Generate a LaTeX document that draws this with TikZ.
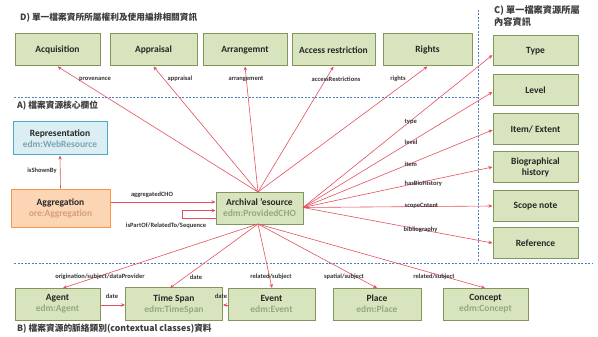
\documentclass[tikz,border=0pt]{standalone}
\usepackage{fontspec}
\setmainfont{Carlito}
\newfontfamily\cjk{Noto Sans CJK TC}
\usetikzlibrary{arrows.meta}
\definecolor{gfill}{RGB}{215,228,189}
\definecolor{gdraw}{RGB}{128,150,90}
\definecolor{gsub}{RGB}{150,168,125}
\definecolor{bfill}{RGB}{218,238,243}
\definecolor{bdraw}{RGB}{75,172,198}
\definecolor{bsub}{RGB}{125,165,178}
\definecolor{ofill}{RGB}{252,213,181}
\definecolor{odraw}{RGB}{247,150,70}
\definecolor{osub}{RGB}{215,160,120}
\definecolor{arr}{RGB}{228,80,95}
\definecolor{dash}{RGB}{79,129,189}
\definecolor{ttl}{RGB}{60,60,60}
\tikzset{
  gbox/.style={draw=gdraw, fill=gfill, line width=1pt, inner sep=1pt, align=center,
    font=\fontsize{9.5}{11}\selectfont\bfseries, text=black!85},
  bbox/.style={gbox, draw=bdraw, fill=bfill},
  obox/.style={gbox, draw=odraw, fill=ofill},
  rel/.style={draw=arr, line width=0.6pt, -{Stealth[length=4pt,width=3.5pt]}},
  lbl/.style={font=\fontsize{6.5}{7}\selectfont\bfseries, text=black!80, inner sep=0.5pt},
  sep/.style={draw=dash, dashed, line width=0.8pt, dash pattern=on 2pt off 1.5pt},
  ttlstyle/.style={font=\cjk\fontsize{8.7}{12}\selectfont\bfseries, text=ttl, anchor=west, inner sep=0pt, align=left}
}
\begin{document}
\begin{tikzpicture}[x=1pt,y=-1pt]
\useasboundingbox[fill=white] (0,0) rectangle (598,337);

% separators
\draw[sep] (478,10) -- (478,262);
\draw[sep] (14,97) -- (478,97);
\draw[sep] (14,263) -- (592,263);

% titles
\node[ttlstyle] (tD) at (20,18) {D) 單一檔案資所所屬權利及使用編排相關資訊};
\node[ttlstyle, anchor=north west, font=\cjk\fontsize{9.2}{12.5}\selectfont\bfseries] (tC) at (494,5) {C) 單一檔案資源所屬\\內容資訊};
\node[ttlstyle] (tA) at (17,106) {A) 檔案資源核心欄位};
\node[ttlstyle] (tB) at (17,329) {B) 檔案資源的脈絡類別(contextual classes)資料};

% top boxes
\node[gbox, minimum width=85pt, minimum height=32pt] (acq) at (57.5,50) {Acquisition};
\node[gbox, minimum width=87pt, minimum height=32pt] (app) at (153.5,50) {Appraisal};
\node[gbox, minimum width=84pt, minimum height=32pt] (arrg) at (245,50) {Arrangemnt};
\node[gbox, minimum width=83pt, minimum height=32pt] (acc) at (333.5,50) {Access restriction};
\node[gbox, minimum width=89pt, minimum height=32pt] (rig) at (427.5,50) {Rights};

% right column
\node[gbox, minimum width=85pt, minimum height=30pt] (typ) at (535.5,51) {Type};
\node[gbox, minimum width=85pt, minimum height=31pt] (lev) at (535.5,90) {Level};
\node[gbox, minimum width=85pt, minimum height=31pt] (itm) at (535.5,129) {Item/ Extent};
\node[gbox, minimum width=85pt, minimum height=31pt] (bio) at (535.5,167) {Biographical\\history};
\node[gbox, minimum width=85pt, minimum height=31pt] (sco) at (535.5,206) {Scope note};
\node[gbox, minimum width=85pt, minimum height=31pt] (ref) at (535.5,243) {Reference};

% core
\node[bbox, minimum width=94pt, minimum height=33pt] (rep) at (60,138.5) {Representation\\\textcolor{bsub}{edm:WebResource}};
\node[obox, minimum width=99pt, minimum height=38pt] (agg) at (60.5,208) {Aggregation\\\textcolor{osub}{ore:Aggregation}};
\node[gbox, minimum width=87pt, minimum height=32pt] (cho) at (259.5,208) {Archival 'esource\\\textcolor{gsub}{edm:ProvidedCHO}};

% bottom
\node[gbox, minimum width=85pt, minimum height=32pt] (agt) at (57.5,304) {Agent\\\textcolor{gsub}{edm:Agent}};
\node[gbox, minimum width=97pt, minimum height=33pt] (tsp) at (174,304) {Time Span\\\textcolor{gsub}{edm:TimeSpan}};
\node[gbox, minimum width=87pt, minimum height=32pt] (evt) at (271.5,304) {Event\\\textcolor{gsub}{edm:Event}};
\node[gbox, minimum width=88pt, minimum height=32pt] (plc) at (377,304) {Place\\\textcolor{gsub}{edm:Place}};
\node[gbox, minimum width=85pt, minimum height=32pt] (cpt) at (485.5,304) {Concept\\\textcolor{gsub}{edm:Concept}};

% anchor points on the core box
\coordinate (ctop) at (258,192);
\coordinate (crt) at (303,207.5);
\coordinate (cbot) at (258,224);

% core to top row
\draw[rel] (ctop) -- (acq.south);
\draw[rel] (ctop) -- (app.south);
\draw[rel] (ctop) -- (arrg.south);
\draw[rel] (ctop) -- (acc.south);
\draw[rel] (ctop) -- (rig.south);
\node[lbl] (lprov) at (95,79) {provenance};
\node[lbl] (lappr) at (180,79) {appraisal};
\node[lbl] (larr) at (246,79) {arrangement};
\node[lbl] (lacc) at (336,79) {accessRestrictions};
\node[lbl] (lrig) at (398,79) {rights};

% core to right column
\draw[rel] (crt) -- (typ.west |- 0,55);
\draw[rel] (crt) -- (lev.west |- 0,92);
\draw[rel] (crt) -- (itm.west |- 0,130);
\draw[rel] (crt) -- (bio.west |- 0,167);
\draw[rel] (crt) -- (sco.west |- 0,206);
\draw[rel] (crt) -- (ref.west |- 0,243);
\node[lbl, anchor=west] (ltyp) at (404,122) {type};
\node[lbl, anchor=west] (llev) at (404,142) {level};
\node[lbl, anchor=west] (litm) at (404,164) {item};
\node[lbl, anchor=west] (lbio) at (404,184) {hasBioHistory};
\node[lbl, anchor=west] (lsco) at (404,206) {scopeCntent};
\node[lbl, anchor=west] (lref) at (403,230) {bibliography};

% core area
\draw[rel] (agg.north) -- (rep.south);
\node[lbl] (lshow) at (42,171) {isShownBy};
\draw[rel] (agg.east |- 0,202) -- (cho.west |- 0,202);
\node[lbl] (lagg) at (152,195) {aggregatedCHO};
\coordinate (lp1) at (182,218);
\coordinate (lp2) at (182,210.5);
\draw[rel] (cho.west |- lp1) -- (lp1) -- (lp2) -- (cho.west |- lp2);
\node[lbl] (lpart) at (166,226) {isPartOf/RelatedTo/Sequence};

% core to bottom
\draw[rel] (cbot) -- (63,288);
\draw[rel] (cbot) -- (170,288);
\draw[rel] (cbot) -- (272,288);
\draw[rel] (cbot) -- (377,288);
\draw[rel] (cbot) -- (485,288);
\node[lbl] (lorig) at (100,277) {origination/subject/dataProvider};
\node[lbl] (ld1) at (196,277) {date};
\node[lbl] (lrel1) at (271,277) {related/subject};
\node[lbl] (lspa) at (344,277) {spatial/subject};
\node[lbl] (lrel2) at (434,277) {related/subject};

% bottom row relations
\draw[rel] (agt.east |- 0,305) -- (tsp.west |- 0,305);
\node[lbl] (ld2) at (112,296) {date};
\draw[rel] (evt.west |- 0,305) -- (tsp.east |- 0,305);
\node[lbl] (ld3) at (221,296) {date};
\end{tikzpicture}
\end{document}
